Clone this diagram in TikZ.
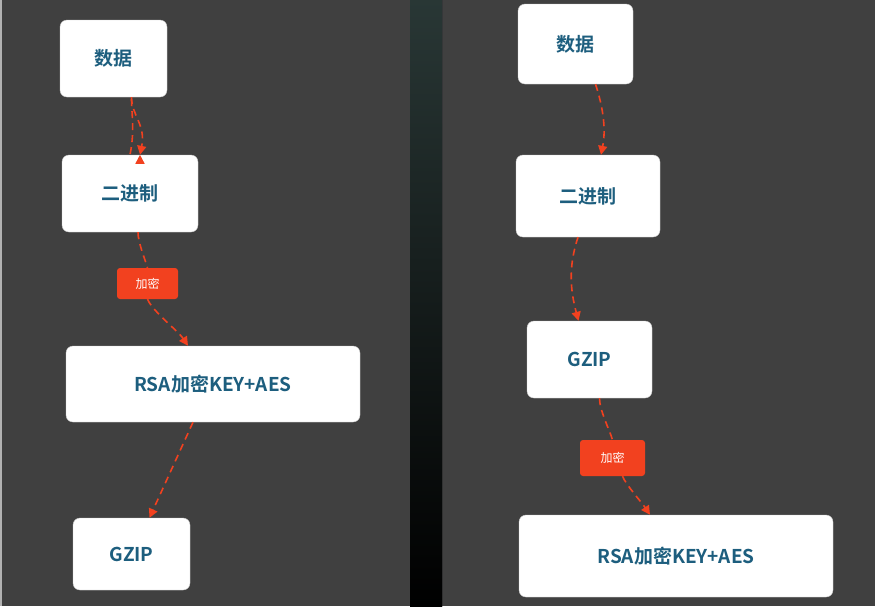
\documentclass[tikz,border=0pt]{standalone}
\usepackage{fontspec}
\setmainfont{Noto Sans CJK SC}[BoldFont={* Bold}]
\usetikzlibrary{arrows.meta}
\definecolor{bg}{HTML}{404040}
\definecolor{txt}{HTML}{1D5E7E}
\definecolor{red}{HTML}{F2411F}
\tikzset{
  box/.style={draw=gray!40,fill=white,rounded corners=7pt,font=\bfseries\fontsize{19}{22}\selectfont,text=txt,inner sep=0pt},
  tag/.style={fill=red,rounded corners=3pt,text=white,font=\fontsize{12}{14}\selectfont,inner sep=0pt},
  link/.style={red,line width=1.6pt,dash pattern=on 7pt off 5pt,-{Triangle[length=9pt,width=9pt]}},
}
\begin{document}
\begin{tikzpicture}[x=1pt,y=-1pt]
\fill[bg] (0,0) rectangle (875,606);
\fill[gray!60] (0,0) rectangle (2,606);
\shade[top color=black!70!blue!90!white!25!black, bottom color=black] (410,0) rectangle (442,606);
\fill[top color={rgb,255:red,43;green,44;blue,48},bottom color=black] (410,0) rectangle (442,606);
% left
\node[box,minimum width=107,minimum height=77] (l1) at (113.5,58.5) {数据};
\node[box,minimum width=136,minimum height=77] (l2) at (130,193.5) {二进制};
\node[box,minimum width=294,minimum height=76] (l3) at (213,384) {RSA加密KEY+AES};
\node[box,minimum width=117,minimum height=72] (l4) at (131.5,554) {GZIP};
\node[tag,minimum width=61,minimum height=31] (lt) at (147.5,283.5) {加密};
\draw[link] (l1.south)++(18,2) coordinate (a1) .. controls +(0,15) and +(5,-25) .. (l2.north)++(10,0) coordinate (a2);
\draw[link] ([xshift=18]l1.south) .. controls +(0,18) and +(6,-30) .. ([xshift=10]l2.north);
\draw[red,line width=1.6pt,dash pattern=on 7pt off 5pt] ([xshift=8]l2.south) .. controls +(0,10) and +(-3,-10) .. (lt.north);
\draw[link] (lt.south) .. controls +(5,12) and +(-10,-15) .. ([xshift=-25]l3.north);
\draw[link] ([xshift=-20]l3.south) -- ([xshift=18]l4.north);
% right
\node[box,minimum width=115,minimum height=80] (r1) at (575.5,44) {数据};
\node[box,minimum width=144,minimum height=82] (r2) at (588,196) {二进制};
\node[box,minimum width=125,minimum height=77] (r3) at (589.5,359.5) {GZIP};
\node[box,minimum width=314,minimum height=82] (r4) at (676,556) {RSA加密KEY+AES};
\node[tag,minimum width=65,minimum height=36] (rt) at (612.5,458) {加密};
\draw[link] ([xshift=20]r1.south) .. controls +(5,15) and +(6,-30) .. ([xshift=13]r2.north);
\draw[link] ([xshift=-10]r2.south) .. controls +(-10,30) and +(-8,-30) .. ([xshift=-11]r3.north);
\draw[red,line width=1.6pt,dash pattern=on 7pt off 5pt] ([xshift=10]r3.south) .. controls +(0,12) and +(-3,-10) .. (rt.north);
\draw[link] ([xshift=10]rt.south) .. controls +(3,8) and +(-8,-12) .. ([xshift=-26]r4.north);
\end{tikzpicture}
\end{document}
